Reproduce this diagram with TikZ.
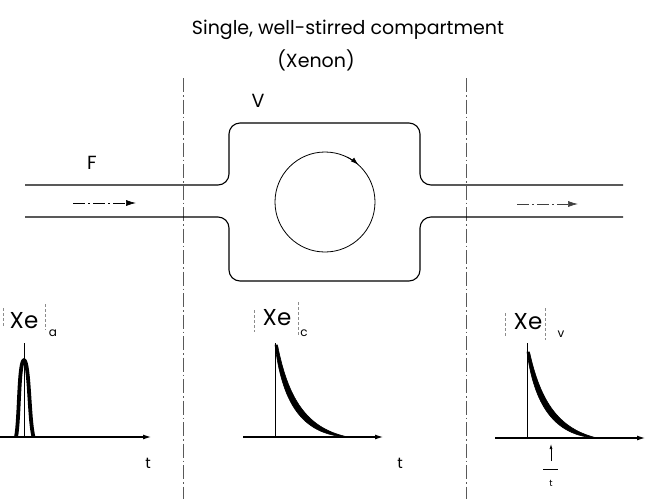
\documentclass[tikz,border=0pt]{standalone}
\usepackage{fontspec}
\setmainfont{Poppins}
\usetikzlibrary{arrows.meta}
\begin{document}
\begin{tikzpicture}[x=1pt,y=-1pt,
  wall/.style={line width=1.1pt, line join=round},
  divider/.style={line width=0.6pt, black!65, dash pattern=on 14pt off 3pt on 1.5pt off 3pt},
  flow/.style={line width=0.7pt, dash pattern=on 12pt off 3pt on 2pt off 3pt, -{Latex[length=10pt,width=6pt]}},
  axis/.style={line width=1.1pt, -{Latex[length=8pt,width=5pt]}},
  tickline/.style={line width=0.9pt},
  bracket/.style={line width=0.6pt, black!45, dash pattern=on 3pt off 2pt},
  lbl/.style={inner sep=0pt, font=\fontsize{19}{22}\selectfont},
  xelbl/.style={inner sep=0pt, font=\fontsize{23}{26}\selectfont},
  sublbl/.style={inner sep=0pt, font=\fontsize{12}{14}\selectfont},
  tlbl/.style={inner sep=0pt, font=\fontsize{15}{17}\selectfont},
  curvefill/.style={fill=black, draw=black, line width=0.6pt, line join=round},
]
\useasboundingbox (0,0) rectangle (645,499);

% title
\node[lbl] (title1) at (348,30) {Single, well-stirred compartment};
\node[lbl] (title2) at (316,60) {(Xenon)};

% dividers
\coordinate (d1t) at (183,78); \coordinate (d1b) at (183,499);
\coordinate (d2t) at (466,78); \coordinate (d2b) at (466,499);
\draw[divider] (d1t) -- (d1b);
\draw[divider] (d2t) -- (d2b);

% compartment and pipes
\draw[wall, rounded corners=11pt] (25,185) -- (229,185) -- (229,123) -- (420,123) -- (420,185) -- (623,185);
\draw[wall, rounded corners=11pt] (25,217) -- (229,217) -- (229,281) -- (420,281) -- (420,217) -- (623,217);

\node[lbl] (V) at (258,101) {V};
\node[lbl] (F) at (92,163) {F};

% stirring circle
\node[circle, draw, line width=0.8pt, minimum size=100pt, inner sep=0pt] (mix) at (325,202) {};
\draw[line width=0.8pt, -{Latex[length=8pt,width=5pt]}] (mix.center) ++(-64:50) arc[start angle=-64, end angle=-48, radius=50];

% flow arrows
\coordinate (fa1) at (73,203); \coordinate (fa2) at (136,203);
\coordinate (fb1) at (517,204); \coordinate (fb2) at (578,204);
\draw[flow] (fa1) -- (fa2);
\draw[flow, black!75] (fb1) -- (fb2);

% ---- graph a
\coordinate (ax0) at (0,437); \coordinate (ax1) at (151,437);
\draw[axis] (ax0) -- (ax1);
\coordinate (at0) at (24,343); \coordinate (at1) at (24,437);
\draw[tickline] (at0) -- (at1);
\draw[line width=3.8pt, line join=round] (16,437) .. controls (19.5,420) and (18.5,362) .. (24,360) .. controls (29.5,362) and (29,420) .. (33.5,437);
\node[xelbl] (xea) at (24,321) {Xe};
\node[sublbl] (suba) at (53,333) {a};
\draw[bracket] (3,308) -- (3,326);
\draw[bracket] (45,304) -- (45,330);
\node[tlbl] (ta) at (148,463) {t};

% ---- graph c
\coordinate (cx0) at (243,437); \coordinate (cx1) at (383,437);
\draw[axis] (cx0) -- (cx1);
\coordinate (ct0) at (275,343); \coordinate (ct1) at (275,437);
\draw[tickline] (ct0) -- (ct1);
\draw[curvefill] (275,345) .. controls (282,400) and (300,435) .. (348,437) .. controls (310,429) and (289,404) .. (277.5,345) -- cycle;
\node[xelbl] (xec) at (277,318) {Xe};
\node[sublbl] (subc) at (304,333) {c};
\draw[bracket] (254,310) -- (254,332);
\draw[bracket] (298,302) -- (298,335);
\node[tlbl] (tc) at (400,463) {t};

% ---- graph v
\coordinate (vx0) at (495,438); \coordinate (vx1) at (645,438);
\draw[axis] (vx0) -- (vx1);
\coordinate (vt0) at (527,343); \coordinate (vt1) at (527,438);
\draw[tickline] (vt0) -- (vt1);
\draw[curvefill] (527,352) .. controls (534,403) and (553,436) .. (597,438) .. controls (560,429) and (541,404) .. (529.5,352) -- cycle;
\node[xelbl] (xev) at (528,322) {Xe};
\node[sublbl] (subv) at (561,334) {v};
\draw[bracket] (505,313) -- (505,337);
\draw[bracket] (545,308) -- (545,340);
\coordinate (mt0) at (551,461); \coordinate (mt1) at (551,444);
\draw[line width=0.7pt, -{Latex[length=5pt,width=3pt]}] (mt0) -- (mt1);
\coordinate (mb0) at (543,469); \coordinate (mb1) at (558,469);
\draw[line width=1pt] (mb0) -- (mb1);
\node[inner sep=0pt, font=\fontsize{9}{10}\selectfont] (tv) at (551,483) {t};
\end{tikzpicture}
\end{document}
